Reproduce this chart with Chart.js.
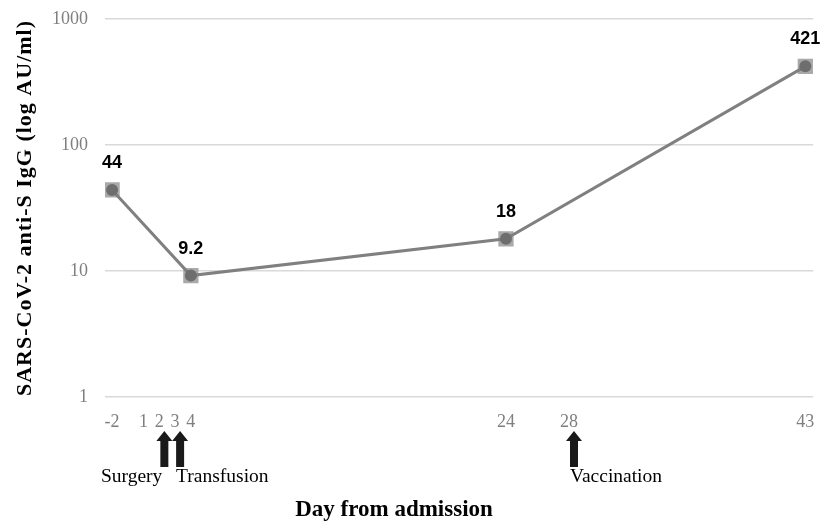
<!DOCTYPE html>
<html>
<head>
<meta charset="utf-8">
<script src="https://cdn.jsdelivr.net/npm/chart.js@4/dist/chart.umd.min.js"></script>
<style>
  html, body { margin: 0; padding: 0; background: #fff; }
  #wrap { width: 824px; height: 522px; }
</style>
</head>
<body>
<div id="wrap"><canvas id="iggChart"></canvas></div>
<script>
// axis ticks (the axis skips days -1 and 0, so -2 sits one step before 1)
const tickDays = [-2, 1, 2, 3, 4, 24, 28, 43];
const yTicks = [1, 10, 100, 1000];

// measured antibody level
const sampleDays = [-2, 4, 24, 43];
const iggValues = [44, 9.2, 18, 421];
const iggLabels = ['44', '9.2', '18', '421'];

// events marked with arrows under the axis
const eventDays = [2, 3, 28];
const eventNames = ['Surgery', 'Transfusion', 'Vaccination'];

function axisPos(day) { return day < 0 ? day + 1 : day; }

const points = sampleDays.map((d, i) => ({ x: axisPos(d), y: iggValues[i] }));

const serif = '"Liberation Serif", "Times New Roman", serif';

const extras = {
    id: 'extras',
    afterDatasetsDraw(chart) {
        const ctx = chart.ctx;
        const xs = chart.scales.x;
        const meta = chart.getDatasetMeta(0);
        ctx.save();
        // value labels
        ctx.fillStyle = '#000';
        ctx.font = 'bold 18px "Liberation Sans", Arial, sans-serif';
        ctx.textAlign = 'center';
        ctx.textBaseline = 'middle';
        meta.data.forEach((pt, i) => {
            ctx.fillText(iggLabels[i], pt.x, pt.y - 27);
        });

        // arrows + event names
        eventDays.forEach((d, i) => {
            const x = xs.getPixelForValue(axisPos(d)) + 5;
            const top = 431, bottom = 467;
            ctx.beginPath();
            ctx.moveTo(x, top);
            ctx.lineTo(x + 8, top + 10);
            ctx.lineTo(x + 4, top + 10);
            ctx.lineTo(x + 4, bottom);
            ctx.lineTo(x - 4, bottom);
            ctx.lineTo(x - 4, top + 10);
            ctx.lineTo(x - 8, top + 10);
            ctx.closePath();
            ctx.fillStyle = '#1a1a1a';
            ctx.fill();

            ctx.fillStyle = '#000';
            ctx.font = '19.5px ' + serif;
            if (i === 0) {
                ctx.textAlign = 'right';
                ctx.fillText(eventNames[i], x - 2, 477);
            } else {
                ctx.textAlign = 'left';
                ctx.fillText(eventNames[i], x - 4, 477);
            }
        });

        // axis titles
        ctx.fillStyle = '#000';
        ctx.textAlign = 'center';
        ctx.font = 'bold 23px ' + serif;
        ctx.fillText('Day from admission', 394, 510);

        ctx.translate(25, 208);
        ctx.rotate(-Math.PI / 2);
        ctx.font = 'bold 22px ' + serif;
        ctx.letterSpacing = '1px';
        ctx.fillText('SARS-CoV-2 anti-S IgG (log AU/ml)', 0, 0);
        ctx.restore();
    }
};

new Chart(document.getElementById('iggChart'), {
    type: 'line',
    data: {
        datasets: [{
            data: points,
            borderColor: '#808080',
            borderWidth: 3,
            pointStyle: 'circle',
            pointRadius: 6,
            pointBackgroundColor: '#6e6e6e',
            pointBorderWidth: 0,
            order: 1
        }, {
            data: points,
            showLine: false,
            pointStyle: 'rect',
            pointRadius: 10.8,
            pointBackgroundColor: '#a9a9a9',
            pointBorderWidth: 0,
            order: 2
        }]
    },
    options: {
        responsive: true,
        maintainAspectRatio: false,
        animation: false,
        layout: { padding: { top: 19, right: 4, left: 0, bottom: 0 } },
        plugins: { legend: { display: false }, tooltip: { enabled: false } },
        scales: {
            x: {
                type: 'linear',
                min: -1.45,
                max: 43.5,
                afterBuildTicks: s => { s.ticks = tickDays.map(d => ({ value: axisPos(d) })); },
                afterFit: s => { s.height = 125; },
                ticks: {
                    autoSkip: false,
                    maxRotation: 0,
                    padding: 6,
                    color: '#7f7f7f',
                    font: { family: serif, size: 18 },
                    callback: (v, i) => String(tickDays[i])
                },
                grid: { display: false },
                border: { display: false }
            },
            y: {
                type: 'logarithmic',
                min: 1,
                max: 1000,
                afterBuildTicks: s => { s.ticks = yTicks.map(v => ({ value: v })); },
                afterFit: s => { s.width = 105; s.paddingTop = 0; s.paddingBottom = 0; },
                ticks: {
                    padding: 17,
                    color: '#7f7f7f',
                    font: { family: serif, size: 18 },
                    callback: v => String(v)
                },
                grid: { color: '#d9d9d9', lineWidth: 1.5, drawTicks: false },
                border: { display: false }
            }
        }
    },
    plugins: [extras]
});
</script>
</body>
</html>
